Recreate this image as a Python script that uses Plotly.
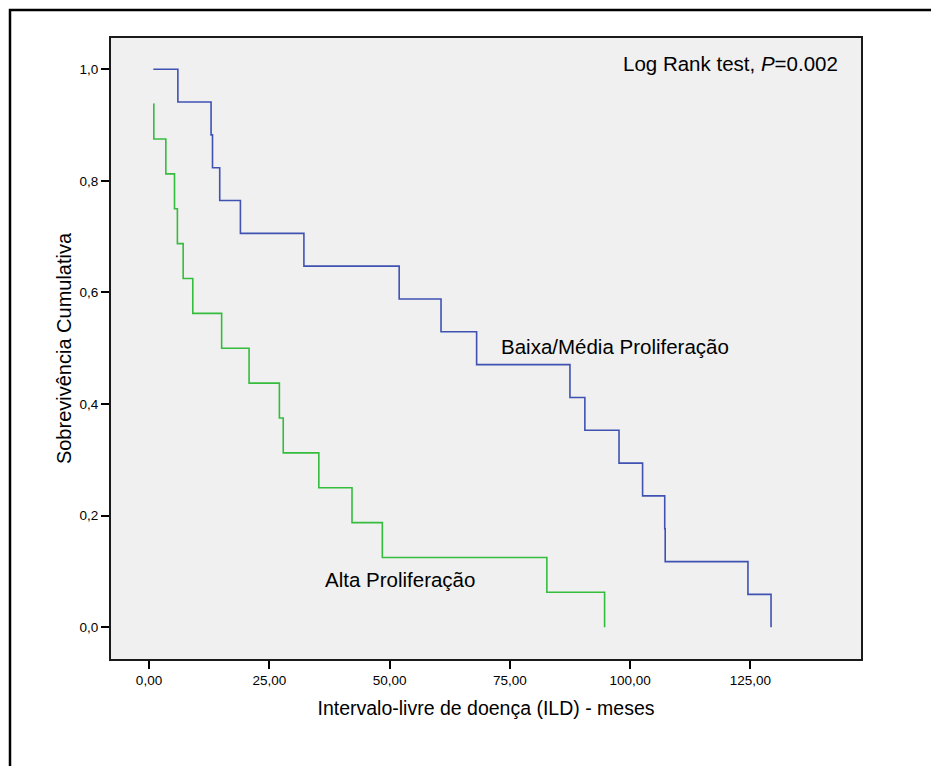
import plotly.graph_objects as go

# ---- data ----
baixa_label = "Baixa/Média Proliferação"
baixa_time = [0.9, 6.0, 12.9, 13.2, 14.7, 19.0, 32.2, 52.0, 60.7, 68.1, 87.5, 90.6, 97.7, 102.6, 107.2, 107.3, 124.5, 129.3]
baixa_surv = [1.0, 0.9412, 0.8824, 0.8235, 0.7647, 0.7059, 0.6471, 0.5882, 0.5294, 0.4706, 0.4118, 0.3529, 0.2941, 0.2353, 0.1765, 0.1176, 0.0588, 0.0]

alta_label = "Alta Proliferação"
alta_time = [0.9, 1.0, 3.5, 5.3, 5.9, 7.1, 9.1, 15.1, 20.8, 27.1, 27.9, 35.3, 42.2, 48.5, 82.7, 94.7]
alta_surv = [0.9375, 0.875, 0.8125, 0.75, 0.6875, 0.625, 0.5625, 0.5, 0.4375, 0.375, 0.3125, 0.25, 0.1875, 0.125, 0.0625, 0.0]

x_ticks = [0, 25, 50, 75, 100, 125]
x_ticklabels = ["0,00", "25,00", "50,00", "75,00", "100,00", "125,00"]
y_ticks = [0.0, 0.2, 0.4, 0.6, 0.8, 1.0]
y_ticklabels = ["0,0", "0,2", "0,4", "0,6", "0,8", "1,0"]

x_title = "Intervalo-livre de doença (ILD) - meses"
y_title = "Sobrevivência Cumulativa"
test_text = "Log Rank test, <i>P</i>=0.002"

FONT = "Arial, Liberation Sans, sans-serif"

W, H = 931, 766
ML, MR, MT, MB = 111, 70, 38, 107

fig = go.Figure()
fig.add_trace(go.Scatter(x=baixa_time, y=baixa_surv, mode="lines", line_shape="hv",
                         line=dict(color="#3F52B2", width=1.6), name=baixa_label,
                         showlegend=False, hoverinfo="skip"))
fig.add_trace(go.Scatter(x=alta_time, y=alta_surv, mode="lines", line_shape="hv",
                         line=dict(color="#34BC3C", width=1.6), name=alta_label,
                         showlegend=False, hoverinfo="skip"))

fig.add_annotation(x=143.7, y=1.01, xref="x", yref="y", text=test_text, showarrow=False,
                   xanchor="right", yanchor="middle", font=dict(family=FONT, size=20.5, color="#000"))
fig.add_annotation(x=72.8, y=0.503, xref="x", yref="y", text=baixa_label, showarrow=False,
                   xanchor="left", yanchor="middle", font=dict(family=FONT, size=20.5, color="#000"))
fig.add_annotation(x=36.2, y=0.085, xref="x", yref="y", text=alta_label, showarrow=False,
                   xanchor="left", yanchor="middle", font=dict(family=FONT, size=20.5, color="#000"))

# outer frame (extends past right/bottom edges as in the reference)
pw = W - ML - MR
ph = H - MT - MB
def px_x(p):
    return (p - ML) / pw
def px_y(p):
    return (H - MB - p) / ph
fig.add_shape(type="rect", xref="paper", yref="paper",
              x0=px_x(10), x1=px_x(960), y0=px_y(10), y1=px_y(800),
              line=dict(color="#000", width=2.5), fillcolor="rgba(0,0,0,0)", layer="above")

fig.update_layout(
    width=W, height=H,
    margin=dict(l=ML, r=MR, t=MT, b=MB, pad=0),
    paper_bgcolor="white", plot_bgcolor="#F0F0F0",
    font=dict(family=FONT, color="#000"),
    xaxis=dict(range=[-7.9, 148.0], tickvals=x_ticks, ticktext=x_ticklabels,
               showgrid=False, zeroline=False, showline=True, linecolor="#1a1a1a", linewidth=2,
               mirror=True, ticks="outside", ticklen=8, tickwidth=2, tickcolor="#000",
               tickfont=dict(family=FONT, size=13.5, color="#000"),
               title=dict(text=x_title, font=dict(family=FONT, size=19.5, color="#000"), standoff=14)),
    yaxis=dict(range=[-0.057, 1.056], tickvals=y_ticks, ticktext=y_ticklabels,
               showgrid=False, zeroline=False, showline=True, linecolor="#1a1a1a", linewidth=2,
               mirror=True, ticks="outside", ticklen=8, tickwidth=2, tickcolor="#000",
               tickfont=dict(family=FONT, size=13.5, color="#000"),
               title=dict(text=y_title, font=dict(family=FONT, size=20, color="#000"), standoff=3)),
)

fig.write_html("out.html")
